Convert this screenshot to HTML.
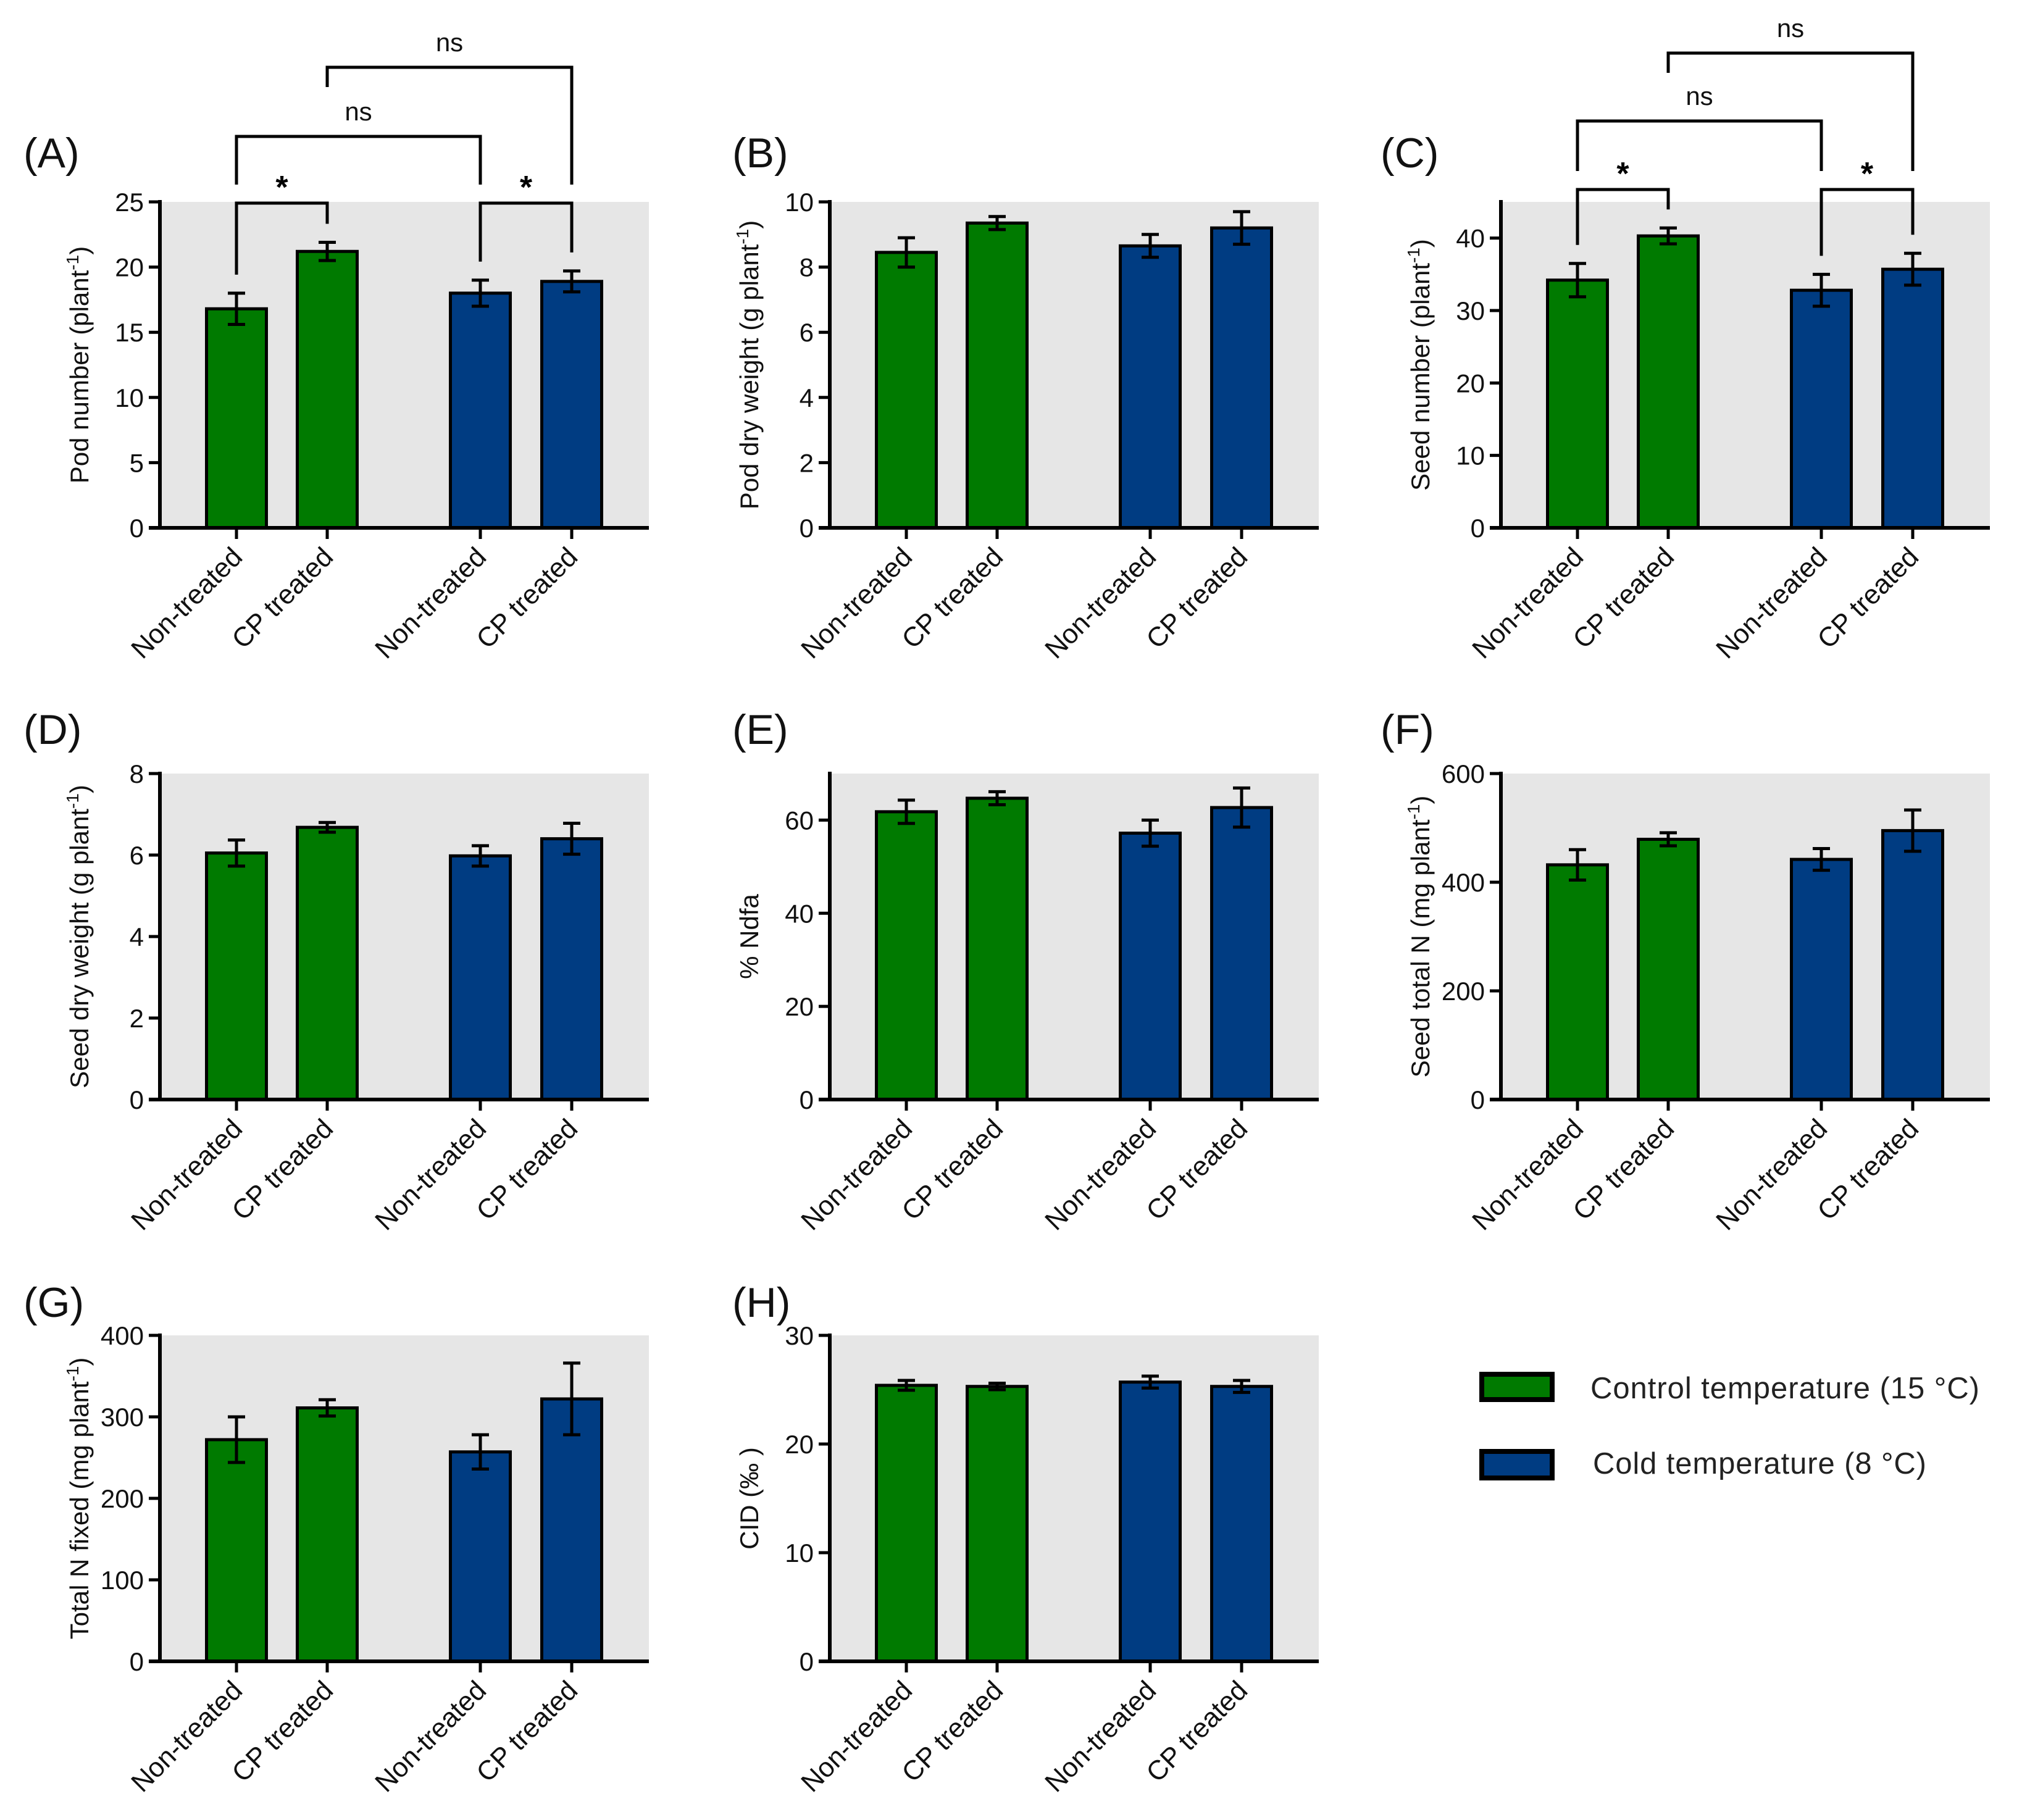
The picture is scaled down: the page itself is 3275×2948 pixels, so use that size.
<!DOCTYPE html>
<html><head><meta charset="utf-8">
<style>
html,body{margin:0;padding:0;background:#fff;}
svg{display:block;font-family:"Liberation Sans",Arial,sans-serif;}
</style></head>
<body>
<svg id="fig" width="3275" height="2948" viewBox="0 0 3275 2948" xmlns="http://www.w3.org/2000/svg">
<g id="legend">
  <rect x="2400" y="2226" width="114" height="41" fill="#007a00" stroke="#000" stroke-width="8"/>
  <text x="2576" y="2265" font-size="49" fill="#222" textLength="630">Control temperature (15 °C)</text>
  <rect x="2400" y="2351" width="114" height="43" fill="#003c82" stroke="#000" stroke-width="8"/>
  <text x="2580" y="2387" font-size="49" fill="#222" textLength="540">Cold temperature (8 °C)</text>
</g>
</svg>
<script>
const categories = ["Non-treated","CP treated","Non-treated","CP treated"];
const panelLabels = ["(A)","(B)","(C)","(D)","(E)","(F)","(G)","(H)"];
const yTitles = ["Pod number (plant|-1|)","Pod dry weight (g plant|-1|)","Seed number (plant|-1|)","Seed dry weight (g plant|-1|)","% Ndfa","Seed total N (mg plant|-1|)","Total N fixed (mg plant|-1|)","CID (‰ )"];
const yMax = [25,10,45,8,70,600,400,30];
const yTicks = [[0,5,10,15,20,25],[0,2,4,6,8,10],[0,10,20,30,40],[0,2,4,6,8],[0,20,40,60],[0,200,400,600],[0,100,200,300,400],[0,10,20,30]];
const meanA = [16.8,21.2,18.0,18.9];  const errA = [1.2,0.7,1.0,0.8];
const meanB = [8.45,9.35,8.65,9.2];   const errB = [0.45,0.2,0.35,0.5];
const meanC = [34.2,40.3,32.8,35.7];  const errC = [2.3,1.1,2.2,2.2];
const meanD = [6.05,6.68,5.98,6.4];   const errD = [0.32,0.12,0.25,0.38];
const meanE = [61.8,64.7,57.2,62.7];  const errE = [2.5,1.4,2.8,4.2];
const meanF = [432,479,442,495];      const errF = [28,12,20,38];
const meanG = [272,311,257,322];      const errG = [28,10,21,44];
const meanH = [25.4,25.3,25.7,25.3];  const errH = [0.45,0.3,0.55,0.55];
const means = [meanA,meanB,meanC,meanD,meanE,meanF,meanG,meanH];
const errs = [errA,errB,errC,errD,errE,errF,errG,errH];
const sigPanels = [0,2];
const sigStar = ["*","*"];
const sigNs = ["ns","ns"];

const NS = "http://www.w3.org/2000/svg";
const svg = document.getElementById('fig');
function mk(tag, attrs, parent){ const e=document.createElementNS(NS,tag); for(const k in attrs) e.setAttribute(k,attrs[k]); (parent||svg).appendChild(e); return e; }
const colOff=[0,1085,2172], rowTop=[327,1253,2163];
const labelX=[38,1186,2236], labelY=[271,1205,2133];
const H=528, barW=97, fills=["#007a00","#007a00","#003c82","#003c82"];
const relCenters=[124,271,519,667];

for(let p=0;p<8;p++){
  const col=p%3,row=Math.floor(p/3);
  const x0=259+colOff[col], top=rowTop[row], base=top+H, right=x0+792;
  const y=v=>base-v/yMax[p]*H;
  const xc=i=>x0+relCenters[i];
  const g=mk('g',{});
  
  
  const bg=mk('rect',{x:x0,y:top,width:right-x0,height:H,fill:'#e6e6e6'},g);
   
  const pl=mk('text',{x:labelX[col],y:labelY[row],'font-size':68,fill:'#111'},g); pl.textContent=panelLabels[p];
   
  for(let i=0;i<4;i++){
    const m=means[p][i], e=errs[p][i];
    const b=mk('rect',{x:xc(i)-barW/2,y:y(m),width:barW,height:base-y(m),fill:fills[i],stroke:'#000','stroke-width':5},g);
     
    const eb=mk('path',{d:`M${xc(i)} ${y(m-e)}V${y(m+e)}M${xc(i)-14} ${y(m-e)}H${xc(i)+14}M${xc(i)-14} ${y(m+e)}H${xc(i)+14}`,stroke:'#000','stroke-width':5,fill:'none'},g);
     
    mk('line',{x1:xc(i),y1:base,x2:xc(i),y2:base+18,stroke:'#000','stroke-width':5},g);
    const xl=mk('text',{x:0,y:0,'font-size':44,'text-anchor':'end',transform:`translate(${xc(i)+12},${base+50}) rotate(-45)`,fill:'#111'},g);
    xl.textContent=categories[i];
     
  }
  const ax=mk('path',{d:`M${x0} ${top-3}V${base}M${x0-18} ${base}H${right}`,stroke:'#000','stroke-width':6,fill:'none'},g);
   
  yTicks[p].forEach(t=>{
    mk('line',{x1:x0-18,y1:y(t),x2:x0,y2:y(t),stroke:'#000','stroke-width':5},g);
    const tl=mk('text',{x:x0-26,y:y(t)+15,'font-size':42,'text-anchor':'end',fill:'#111'},g); tl.textContent=t;
     
  });
  const parts=yTitles[p].split('|');
  const yt=mk('text',{x:0,y:0,'font-size':42,'text-anchor':'middle',transform:`translate(${x0-116},${top+H/2}) rotate(-90)`,fill:'#111'},g);
   
  const s1=mk('tspan',{},yt); s1.textContent=parts[0];
  if(parts.length>1){ const s2=mk('tspan',{dy:-16,'font-size':28},yt); s2.textContent=parts[1]; const s3=mk('tspan',{dy:16},yt); s3.textContent=parts[2]; }
  const si=sigPanels.indexOf(p);
  if(si>=0){
    const sb = p===0?329:307, lb=p===0?221:196, ub=p===0?109:86;
    const top_=i=>y(means[p][i]+errs[p][i])-30;
    const br=(d,n)=>{const e=mk('path',{d:d,stroke:'#000','stroke-width':5,fill:'none'},g);  };
    br(`M${xc(0)} ${top_(0)}V${sb}H${xc(1)}V${top_(1)}`,'sig-bracket-control');
    br(`M${xc(2)} ${top_(2)}V${sb}H${xc(3)}V${top_(3)}`,'sig-bracket-cold');
    br(`M${xc(0)} ${sb-30}V${lb}H${xc(2)}V${sb-30}`,'sig-bracket-nontreated');
    br(`M${xc(1)} ${ub+32}V${ub}H${xc(3)}V${sb-30}`,'sig-bracket-cptreated');
    [[0,1,sb],[2,3,sb]].forEach(a=>{const t=mk('text',{x:(xc(a[0])+xc(a[1]))/2,y:a[2]-8,'font-size':52,'font-weight':'bold','text-anchor':'middle'},g); t.textContent=sigStar[si];  });
    [[0,2,lb],[1,3,ub]].forEach(a=>{const t=mk('text',{x:(xc(a[0])+xc(a[1]))/2,y:a[2]-26,'font-size':42,'text-anchor':'middle',fill:'#111'},g); t.textContent=sigNs[si];  });
  }
}
</script>
</body></html>
